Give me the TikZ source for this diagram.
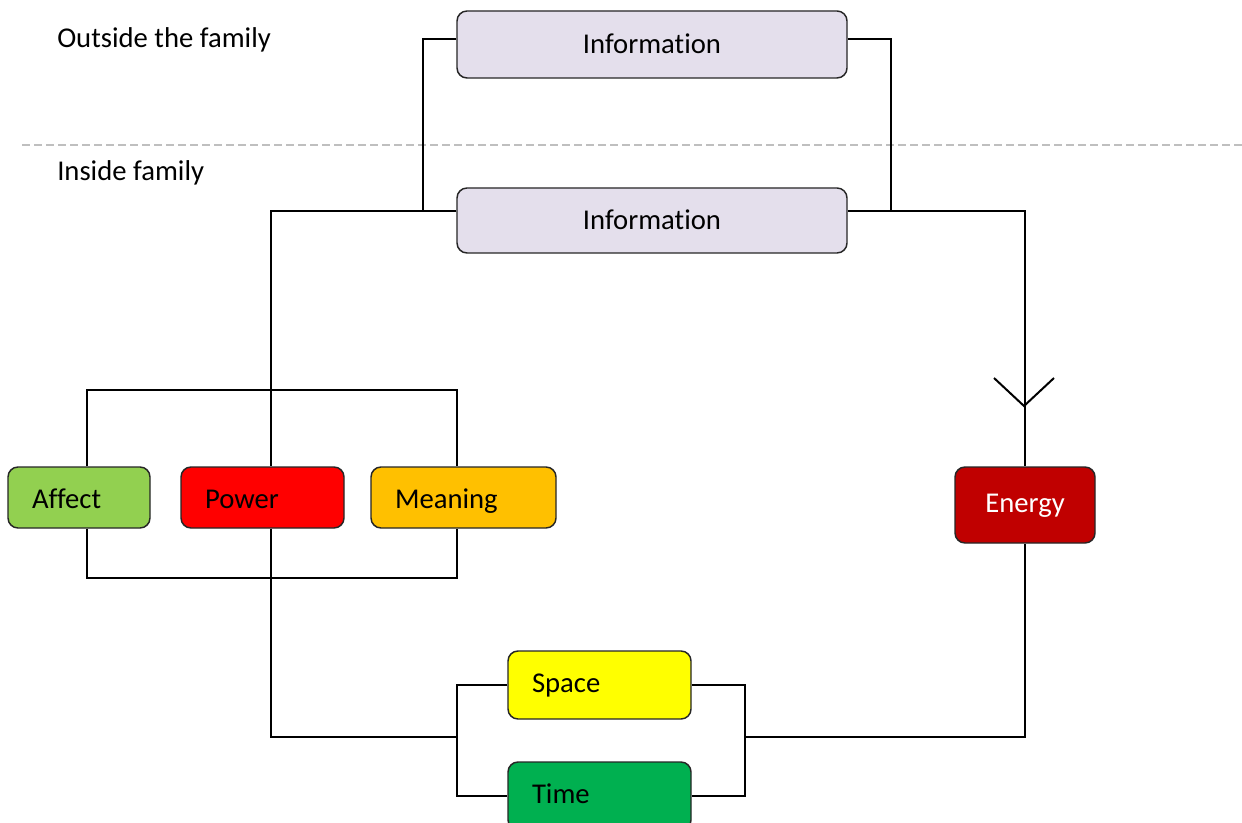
\documentclass[tikz,border=0pt]{standalone}
\usepackage{fontspec}
\setmainfont{Carlito}[Ligatures=NoCommon]
\begin{document}
\begin{tikzpicture}[x=0.75pt,y=-0.75pt,
  lbl/.style={font=\fontsize{21.5}{26}\selectfont},
  box/.style={lbl,draw=black!85,line width=1.1pt,rounded corners=7.5pt,
    inner sep=0pt,text height=15pt,text depth=4.5pt},
  lowtext/.style={text height=16.5pt,text depth=3pt},
  lowertext/.style={text height=18pt,text depth=1.5pt},
  leftbox/.style={box,align=left,text width=#1-36pt},
  infofill/.style={fill={rgb,255:red,228;green,223;blue,236}},
  wire/.style={line width=1.5pt,black},
  divider/.style={line width=1.4pt,color=black!25,dash pattern=on 6pt off 3pt}]
\clip (0,0) rectangle (1242,823);
\fill[white] (0,0) rectangle (1242,823);

% region labels and divider
\node[lbl,anchor=west,inner sep=0pt] (outside) at (57,40) {Outside the family};
\node[lbl,anchor=west,inner sep=0pt] (inside) at (57,173) {Inside family};
\draw[divider] (22,145) -- (1242,145);

% information nodes
\node[box,lowtext,infofill,minimum width=292.5pt,minimum height=50.25pt] (info1) at (652,44.5) {Information};
\node[box,lowtext,infofill,minimum width=292.5pt,minimum height=48.75pt] (info2) at (652,220.5) {Information};

% middle row
\node[leftbox=106.5pt,lowertext,fill={rgb,255:red,146;green,208;blue,80},minimum width=106.5pt,minimum height=45.75pt] (affect) at (79,497.5) {Affect};
\node[leftbox=122.25pt,lowertext,fill={rgb,255:red,255;green,0;blue,0},minimum width=122.25pt,minimum height=45.75pt] (power) at (262.5,497.5) {Power};
\node[leftbox=138.75pt,lowertext,fill={rgb,255:red,255;green,192;blue,0},minimum width=138.75pt,minimum height=45.75pt] (meaning) at (463.5,497.5) {Meaning};
\node[box,text=white,fill={rgb,255:red,192;green,0;blue,0},minimum width=105pt,minimum height=57pt] (energy) at (1025,505) {Energy};

% bottom pair
\node[leftbox=137.25pt,fill={rgb,255:red,255;green,255;blue,0},minimum width=137.25pt,minimum height=51pt] (space) at (599.5,685) {Space};
\node[leftbox=137.25pt,fill={rgb,255:red,0;green,176;blue,80},minimum width=137.25pt,minimum height=51pt] (time) at (599.5,796) {Time};

% junction points
\coordinate (lA) at (423,39);
\coordinate (rA) at (891,39);
\coordinate (row2) at (0,211);
\coordinate (pw) at (271,211);
\coordinate (aT) at (87,390);
\coordinate (mT) at (457,390);
\coordinate (aB) at (87,578);
\coordinate (mB) at (457,578);
\coordinate (bl) at (457,737);
\coordinate (br) at (745,737);
\coordinate (tip) at (1024,406);

% outer information loop
\draw[wire] (info1.west |- lA) -- (lA) -- (lA |- row2);
\draw[wire] (info1.east |- rA) -- (rA) -- (rA |- row2);

% inner information to power and energy
\draw[wire] (info2.west |- row2) -- (pw) -- (pw |- power.north);
\draw[wire] (info2.east |- row2) -| (energy.north);
\draw[wire] (tip) ++(-30,-28) -- (tip) -- ++(30,-28);

% affect / meaning bracket
\draw[wire] (aT |- affect.north) -- (aT) -- (mT) -- (mT |- meaning.north);
\draw[wire] (aB |- affect.south) -- (aB) -- (mB) -- (mB |- meaning.south);

% power down to space/time and on to energy
\draw[wire] (pw |- power.south) |- (bl);
\draw[wire] (space.west) -| (bl) |- (time.west);
\draw[wire] (space.east) -| (br) |- (time.east);
\draw[wire] (br) -| (energy.south);
\end{tikzpicture}
\end{document}
